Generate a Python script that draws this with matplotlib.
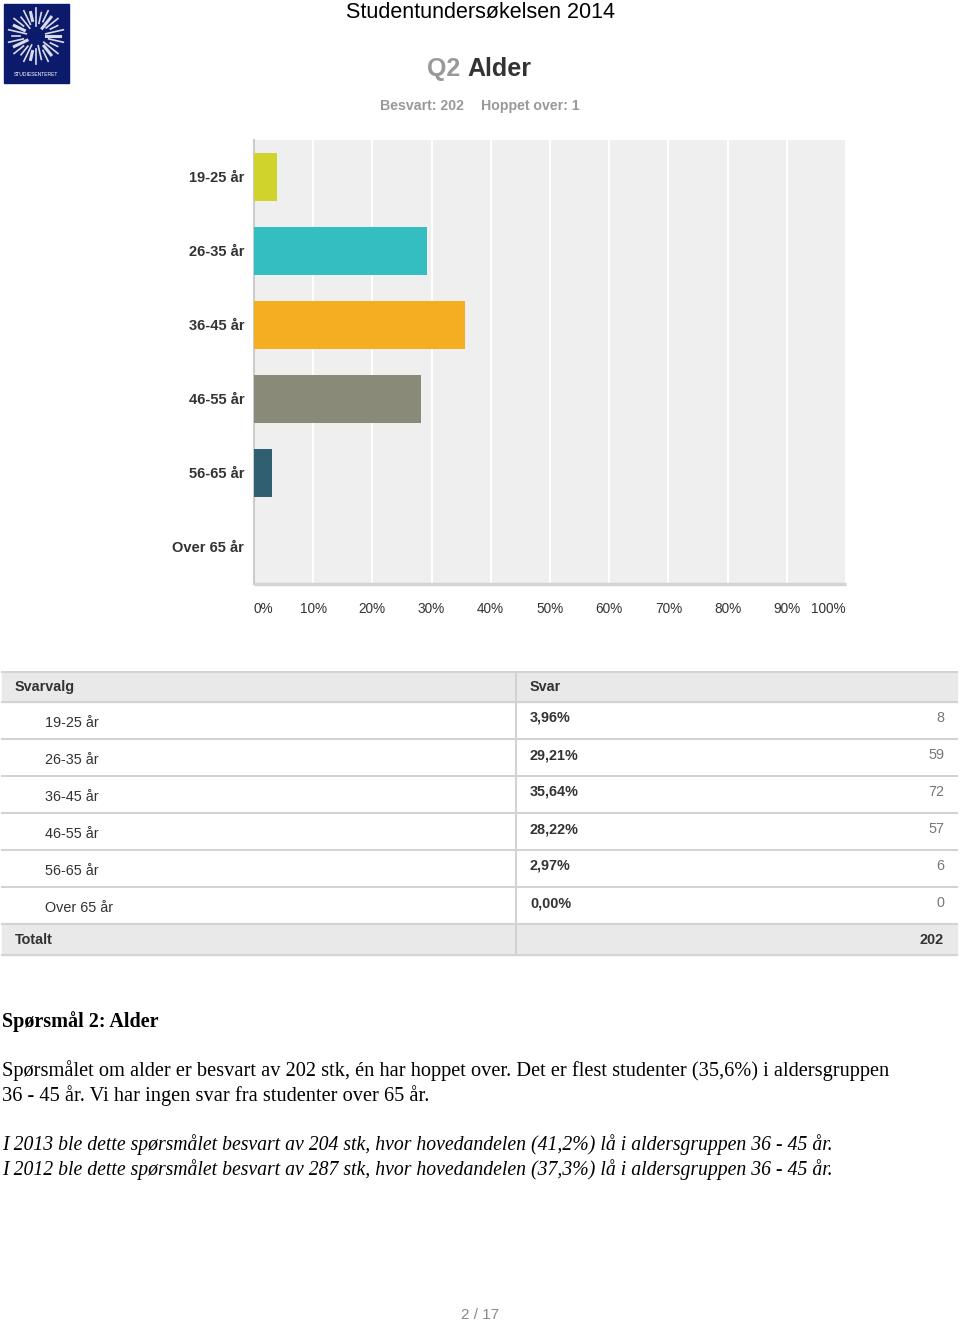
import matplotlib
matplotlib.use("Agg")
import matplotlib.pyplot as plt
from matplotlib.patches import Rectangle
import numpy as np

# ---- data ----
categories = ["19-25 år", "26-35 år", "36-45 år", "46-55 år", "56-65 år", "Over 65 år"]
percents = [3.96, 29.21, 35.64, 28.22, 2.97, 0.00]
counts = [8, 59, 72, 57, 6, 0]
total = 202
skipped = 1
colors = ["#cfd32b", "#35bec1", "#f5ae22", "#898a78", "#2f5f70", "#8e5b8b"]
xticks = [0, 10, 20, 30, 40, 50, 60, 70, 80, 90, 100]
xtick_labels = [f"{t}%" for t in xticks]

W, H = 960, 1322
fig = plt.figure(figsize=(W / 100, H / 100), dpi=100)
SANS = "Liberation Sans"
SERIF = "Liberation Serif"

# ---- overlay axes in pixel coordinates ----
ov = fig.add_axes([0, 0, 1, 1])
ov.set_xlim(0, W)
ov.set_ylim(H, 0)
ov.axis("off")

# logo
ov.add_patch(Rectangle((4, 4), 65, 79, color="#0b1a6b", zorder=1))
cx, cy = 36, 36
for i, ang in enumerate(np.linspace(0, 2 * np.pi, 28, endpoint=False)):
    r1, r2 = 10 + (i % 3) * 3, 24 + (i % 2) * 4
    ov.plot([cx + r1 * np.cos(ang), cx + r2 * np.cos(ang)],
            [cy + r1 * np.sin(ang), cy + r2 * np.sin(ang)],
            color="white", lw=1.2 if i % 4 else 2.2, alpha=0.85, zorder=2)
ov.text(36, 75, "STUDIESENTERET", color="white", fontsize=3.6, ha="center",
        va="center", family=SANS, zorder=3)

# headings
ov.text(480, 12, "Studentundersøkelsen 2014", fontsize=15.5, ha="center",
        va="center", family=SANS, color="#000000")
ov.text(460, 69, "Q2", fontsize=18, ha="right", va="center", family=SANS,
        color="#999999", fontweight="bold")
ov.text(467, 69, "Alder", fontsize=18, ha="left", va="center", family=SANS,
        color="#333333", fontweight="bold")
ov.text(464, 106, f"Besvart: {total}", fontsize=10.2, ha="right", va="center",
        family=SANS, color="#999999", fontweight="bold")
ov.text(481, 106, f"Hoppet over: {skipped}", fontsize=10.2, ha="left", va="center",
        family=SANS, color="#999999", fontweight="bold")

# ---- bar chart ----
L, R, T, B = 254, 846, 140, 584
ax = fig.add_axes([L / W, 1 - B / H, (R - L) / W, (B - T) / H])
ax.set_facecolor("#efefef")
y = np.arange(len(categories))
ax.barh(y, percents, height=0.66, color=colors, zorder=3)
ax.set_ylim(len(categories) - 0.5, -0.5)
ax.set_xlim(0, 100)
ax.set_xticks(xticks)
ax.set_xticklabels(xtick_labels)
ax.tick_params(axis="x", length=0, pad=13, labelsize=9.8, labelcolor="#333333")
for lab in ax.get_xticklabels():
    lab.set_family(SANS)
tl = ax.get_xticklabels()
tl[0].set_ha("left")
tl[-1].set_ha("right")
ax.set_yticks(y)
ax.set_yticklabels(categories, family=SANS, fontweight="bold", fontsize=10.5,
                   color="#333333")
ax.tick_params(axis="y", length=0, pad=7)
for lab in ax.get_yticklabels():
    lab.set_va("center_baseline")
ax.grid(axis="x", color="white", lw=1.5, zorder=1)
ax.set_axisbelow(True)
for s in ["top", "right"]:
    ax.spines[s].set_visible(False)
ax.spines["left"].set_color("#cccccc")
ax.spines["left"].set_linewidth(1.5)
ax.spines["bottom"].set_color("#d4d4d4")
ax.spines["bottom"].set_linewidth(2.5)
ax.spines["bottom"].set_capstyle("butt")

# ---- table ----
tx0, tx1, tdiv = 2, 957, 516
head_top, head_bot = 672, 702
row_h = 37
grey = "#e9e9e9"
line_c = "#d3d3d3"
FS = 10.4
ov.add_patch(Rectangle((tx0, head_top), tx1 - tx0, head_bot - head_top,
                       color=grey, zorder=1))
ov.plot([tx0, tx1], [head_top, head_top], color=line_c, lw=1.5)
ov.plot([tx0, tx1], [head_bot, head_bot], color=line_c, lw=1.5)
ov.text(15, 687, "Svarvalg", fontsize=FS, fontweight="bold", family=SANS,
        color="#333333", va="center")
ov.text(530, 687, "Svar", fontsize=FS, fontweight="bold", family=SANS,
        color="#333333", va="center")
for i, (cat, p, c) in enumerate(zip(categories, percents, counts)):
    top = head_bot + i * row_h
    bot = top + row_h
    ov.plot([tx0, tx1], [bot, bot], color=line_c, lw=1.5)
    ov.text(45, top + 21, cat, fontsize=FS, family=SANS, color="#333333",
            va="center")
    ov.text(530, top + 16, f"{p:.2f}%".replace(".", ","), fontsize=FS,
            fontweight="bold", family=SANS, color="#333333", va="center")
    ov.text(944, top + 16, f"{c}", fontsize=FS, family=SANS, color="#777777",
            va="center", ha="right")
tot_top = head_bot + len(categories) * row_h
tot_bot = tot_top + 31
ov.add_patch(Rectangle((tx0, tot_top), tx1 - tx0, tot_bot - tot_top,
                       color=grey, zorder=1))
ov.plot([tx0, tx1], [tot_bot, tot_bot], color=line_c, lw=1.5)
ov.plot([tdiv, tdiv], [head_top, tot_bot], color=line_c, lw=1.5)
ov.text(15, tot_top + 16, "Totalt", fontsize=FS, fontweight="bold", family=SANS,
        color="#333333", va="center")
ov.text(944, tot_top + 16, f"{sum(counts)}", fontsize=FS, fontweight="bold",
        family=SANS, color="#333333", va="center", ha="right")

# ---- commentary text ----
ov.text(2, 1022, "Spørsmål 2: Alder", fontsize=14.5, fontweight="bold",
        family=SERIF, color="#000000", va="center")
ov.text(2, 1071, "Spørsmålet om alder er besvart av 202 stk, én har hoppet over. "
        "Det er flest studenter (35,6%) i aldersgruppen", fontsize=14.7,
        family=SERIF, color="#000000", va="center")
ov.text(2, 1096, "36 - 45 år. Vi har ingen svar fra studenter over 65 år.",
        fontsize=14.7, family=SERIF, color="#000000", va="center")
ov.text(2, 1145, "I 2013 ble dette spørsmålet besvart av 204 stk, hvor hovedandelen "
        "(41,2%) lå i aldersgruppen 36 - 45 år.", fontsize=14.25, style="italic",
        family=SERIF, color="#000000", va="center")
ov.text(2, 1170, "I 2012 ble dette spørsmålet besvart av 287 stk, hvor hovedandelen "
        "(37,3%) lå i aldersgruppen 36 - 45 år.", fontsize=14.25, style="italic",
        family=SERIF, color="#000000", va="center")

ov.text(480, 1315, "2 / 17", fontsize=11, family=SANS, color="#888888",
        ha="center", va="center")

fig.savefig("out.png", dpi=100)
